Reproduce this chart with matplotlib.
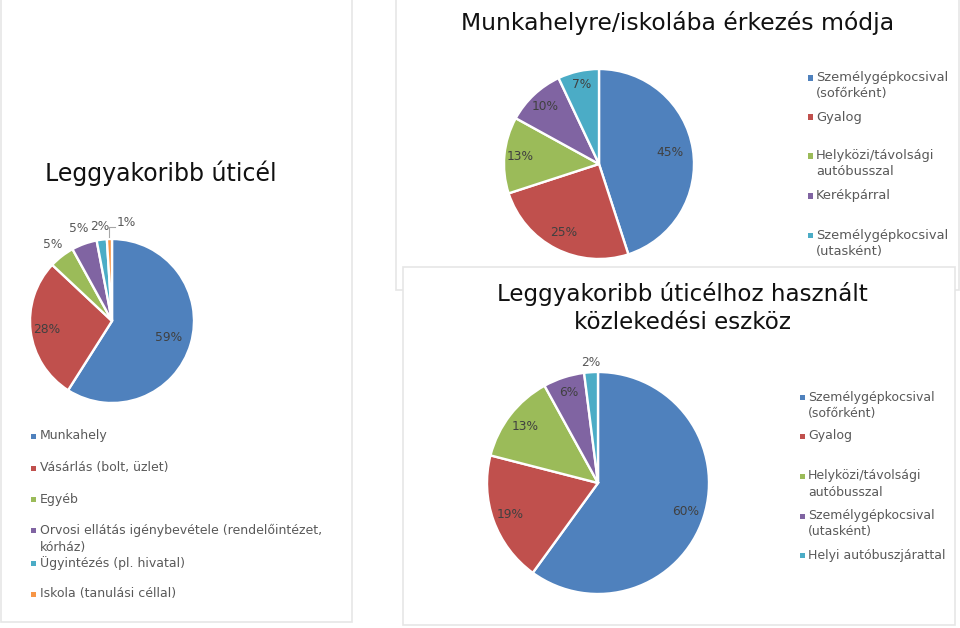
import matplotlib
matplotlib.use("Agg")
import matplotlib.pyplot as plt
from matplotlib.patches import Rectangle
import numpy as np

W, H = 960, 628
plt.rcParams['font.family'] = ['DejaVu Sans']

# ---------------- data ----------------
title1 = "Leggyakoribb úticél"
cats1 = ["Munkahely", "Vásárlás (bolt, üzlet)", "Egyéb",
         "Orvosi ellátás igénybevétele (rendelőintézet,\nkórház)",
         "Ügyintézés (pl. hivatal)", "Iskola (tanulási céllal)"]
vals1 = [59, 28, 5, 5, 2, 1]

title2 = "Munkahelyre/iskolába érkezés módja"
cats2 = ["Személygépkocsival\n(sofőrként)", "Gyalog",
         "Helyközi/távolsági\nautóbusszal", "Kerékpárral",
         "Személygépkocsival\n(utasként)"]
vals2 = [45, 25, 13, 10, 7]

title3 = "Leggyakoribb úticélhoz használt\nközlekedési eszköz"
cats3 = ["Személygépkocsival\n(sofőrként)", "Gyalog",
         "Helyközi/távolsági\nautóbusszal",
         "Személygépkocsival\n(utasként)", "Helyi autóbuszjárattal"]
vals3 = [60, 19, 13, 6, 2]

# ---------------- style ----------------
colors = ["#4F81BD", "#C0504D", "#9BBB59", "#8064A2", "#4BACC6", "#F79646"]
LBL_IN = "#404040"
LBL_OUT = "#595959"
LEG = "#595959"
BORDER = "#e6e6e6"

fig = plt.figure(figsize=(W / 100, H / 100), dpi=100)
fig.patch.set_facecolor("white")


def fx(x):
    return x / W


def fy(y):
    return 1 - y / H


def panel(x0, y0, x1, y1, z):
    fig.add_artist(Rectangle((fx(x0), fy(y1)), fx(x1 - x0), (y1 - y0) / H,
                             transform=fig.transFigure, facecolor="white",
                             edgecolor=BORDER, linewidth=1.2, zorder=z))


def pie_axes(cx, cy, r, vals, radii, pad=1.4):
    ax = fig.add_axes([fx(cx - r * pad), fy(cy + r * pad),
                       2 * r * pad / W, 2 * r * pad / H])
    ax.set_zorder(0)
    wedges, _ = ax.pie(vals, colors=colors[:len(vals)], startangle=90,
                       counterclock=False, radius=1,
                       wedgeprops=dict(edgecolor="white", linewidth=1.7))
    ax.set_aspect("auto")
    ax.set_xlim(-pad, pad)
    ax.set_ylim(-pad, pad)
    ax.axis("off")
    out = []
    for w, v, rr in zip(wedges, vals, radii):
        t = np.deg2rad((w.theta1 + w.theta2) / 2)
        out.append((t, v, rr))
    return ax, out


def legend(x_mark, x_text, rows, cats, fs):
    for i, (cat, ys) in enumerate(zip(cats, rows)):
        lines = cat.split("\n")
        fig.add_artist(Rectangle((fx(x_mark - 2.5), fy(ys[0] + 2.5)), 5 / W, 5 / H,
                                 transform=fig.transFigure,
                                 facecolor=colors[i], edgecolor="none", zorder=2))
        for ln, yy in zip(lines, ys):
            fig.text(fx(x_text), fy(yy), ln, fontsize=fs, color=LEG,
                     ha="left", va="center", zorder=3)


# ---------------- panels (backgrounds) ----------------
panel(1, -5, 352, 622, -3)
panel(396, -5, 959, 290, -2)
panel(403, 267, 955, 625, -1)

# ---------- panel 1 ----------
fig.text(fx(161), fy(173), title1, fontsize=17, color="#111111",
         ha="center", va="center")
ax1, info1 = pie_axes(112, 321, 82, vals1, [0.72, 0.80, 1.18, 1.2, 1.16, 1.2])
for k, (t, v, rr) in enumerate(info1):
    if k < 2:
        ax1.text(rr * np.cos(t), rr * np.sin(t), f"{v}%", fontsize=8.8,
                 color=LBL_IN, ha="center", va="center")
    elif k < 5:
        ax1.text(rr * np.cos(t), rr * np.sin(t), f"{v}%", fontsize=8.8,
                 color=LBL_OUT, ha="center", va="center")
    else:
        sx, sy = 1.02 * np.cos(t), 1.02 * np.sin(t)
        ax1.plot([sx, sx, sx + 0.07], [sy, 1.15, 1.15], color="#a6a6a6",
                 lw=0.8, clip_on=False)
        ax1.text(sx + 0.09, 1.2, f"{v}%", fontsize=8.8, color=LBL_OUT,
                 ha="left", va="center")
legend(33, 40, [[436], [468], [499], [530, 547], [563], [594]], cats1, 9)

# ---------- panel 2 ----------
fig.text(fx(678), fy(23), title2, fontsize=16.9, color="#111111",
         ha="center", va="center")
ax2, info2 = pie_axes(599, 164, 95, vals2, [0.76, 0.81, 0.83, 0.83, 0.86])
for t, v, rr in info2:
    ax2.text(rr * np.cos(t), rr * np.sin(t), f"{v}%", fontsize=8.8,
             color=LBL_IN, ha="center", va="center")
legend(810, 816, [[78, 94], [117], [156, 172], [196], [236, 252]], cats2, 9.4)

# ---------- panel 3 ----------
fig.text(fx(682), fy(308), title3, fontsize=16.6, color="#111111",
         ha="center", va="center", linespacing=1.25)
ax3, info3 = pie_axes(598, 483, 111, vals3, [0.83, 0.84, 0.83, 0.86, 1.09])
for k, (t, v, rr) in enumerate(info3):
    ax3.text(rr * np.cos(t), rr * np.sin(t), f"{v}%", fontsize=8.8,
             color=LBL_IN if k < 4 else LBL_OUT, ha="center", va="center")
legend(802, 808, [[397, 413], [436], [476, 492], [516, 531], [555]], cats3, 9)

fig.savefig("out.png", dpi=100, facecolor="white")
